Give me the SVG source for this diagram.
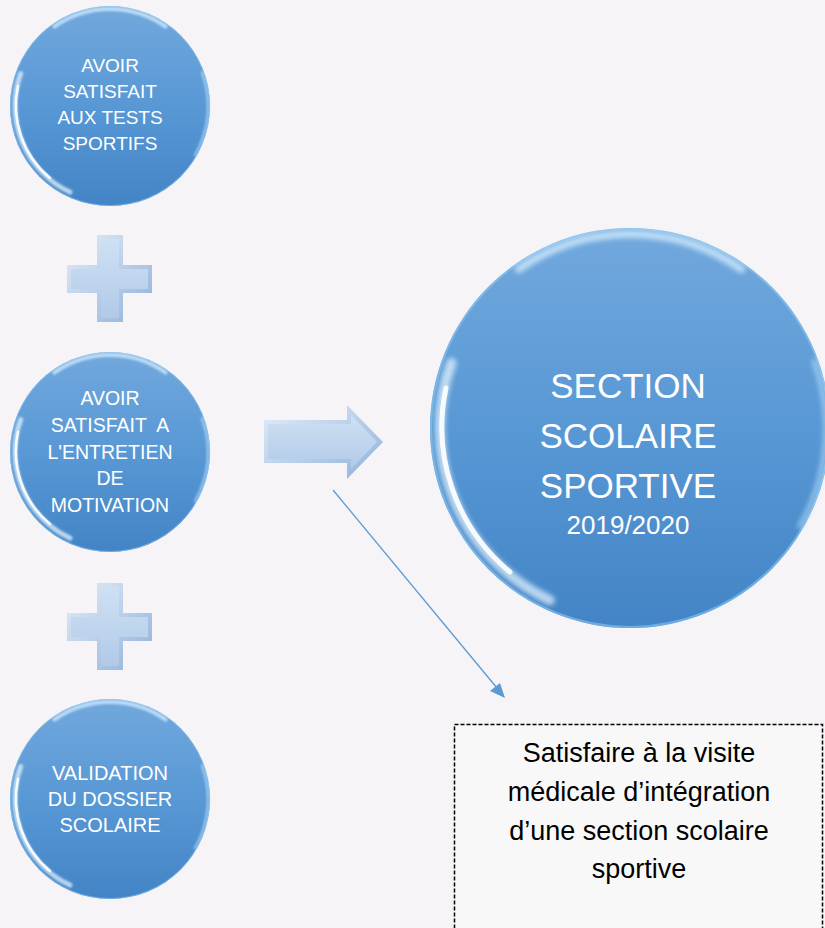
<svg xmlns="http://www.w3.org/2000/svg" xmlns:xlink="http://www.w3.org/1999/xlink" width="825" height="928" viewBox="0 0 825 928">
<style>
.ctext{font-family:"Liberation Sans",Arial,sans-serif;fill:#ffffff;text-anchor:middle}
.btext{font-family:"Liberation Sans",Arial,sans-serif;fill:#000000;text-anchor:middle;font-size:27px}
.hl{fill:none;stroke-linecap:round}
</style>
<defs>
<linearGradient id="gBubble" x1="0" y1="0" x2="0" y2="1">
<stop offset="0" stop-color="#72a8dd"/>
<stop offset="0.5" stop-color="#5898d5"/>
<stop offset="1" stop-color="#4384c6"/>
</linearGradient>
<linearGradient id="gBevelOuter" x1="0" y1="0" x2="1" y2="1">
<stop offset="0" stop-color="#e4eef9"/>
<stop offset="1" stop-color="#8fb0da"/>
</linearGradient>
<linearGradient id="gBevelFace" x1="0" y1="0" x2="0" y2="1">
<stop offset="0" stop-color="#cfe0f3"/>
<stop offset="1" stop-color="#b1cae9"/>
</linearGradient>
<filter id="fBlur" x="-20%" y="-20%" width="140%" height="140%">
<feGaussianBlur stdDeviation="1.2"/>
</filter>
<g id="bubble">
<circle r="100" fill="url(#gBubble)"/>
<circle r="99.5" fill="none" stroke="#8cc6f0" stroke-width="1" opacity="0.6"/>
<path class="hl" d="M -89.3 -32.5 A 95 95 0 0 0 -40.1 86.1" stroke="#eaf8ff" stroke-width="5" opacity="0.7" filter="url(#fBlur)"/>
<path class="hl" d="M -92 -20 A 94 94 0 0 0 -60 72" stroke="#ffffff" stroke-width="2.5" opacity="0.9"/>
<path class="hl" d="M -55.6 -79.5 A 97 97 0 0 1 55.6 -79.5" stroke="#d6efff" stroke-width="4" opacity="0.75" filter="url(#fBlur)"/>
<path class="hl" d="M 92 -33.5 A 98 98 0 0 1 85 49" stroke="#c4e8ff" stroke-width="2.5" opacity="0.6" filter="url(#fBlur)"/>
</g>
</defs>

<rect x="0" y="0" width="825" height="928" fill="#f6f4f6"/>

<g id="node-tests">
<use xlink:href="#bubble" transform="translate(110,106)"/>
<text class="ctext" font-size="19" x="110" y="72">AVOIR</text>
<text class="ctext" font-size="19" x="110" y="98">SATISFAIT</text>
<text class="ctext" font-size="19" x="110" y="124">AUX TESTS</text>
<text class="ctext" font-size="19" x="110" y="150">SPORTIFS</text>
</g>

<g id="plus-1">
<polygon points="97,235 123,235 123,265 152,265 152,293 123,293 123,322 97,322 97,293 67,293 67,265 97,265" fill="url(#gBevelOuter)"/>
<polygon points="101,239 119,239 119,269 148,269 148,289 119,289 119,318 101,318 101,289 71,289 71,269 101,269" fill="url(#gBevelFace)"/>
</g>

<g id="node-entretien">
<use xlink:href="#bubble" transform="translate(110,452)"/>
<text class="ctext" font-size="19.5" x="110" y="405">AVOIR</text>
<text class="ctext" font-size="19.5" x="110" y="432" xml:space="preserve">SATISFAIT  A</text>
<text class="ctext" font-size="19.5" x="110" y="459">L'ENTRETIEN</text>
<text class="ctext" font-size="19.5" x="110" y="485">DE</text>
<text class="ctext" font-size="19.5" x="110" y="512">MOTIVATION</text>
</g>

<g id="plus-2">
<polygon points="97,583 123,583 123,613 152,613 152,641 123,641 123,670 97,670 97,641 67,641 67,613 97,613" fill="url(#gBevelOuter)"/>
<polygon points="101,587 119,587 119,617 148,617 148,637 119,637 119,666 101,666 101,637 71,637 71,617 101,617" fill="url(#gBevelFace)"/>
</g>

<g id="node-dossier">
<use xlink:href="#bubble" transform="translate(110,799)"/>
<text class="ctext" font-size="20" x="110" y="780">VALIDATION</text>
<text class="ctext" font-size="20" x="110" y="806">DU DOSSIER</text>
<text class="ctext" font-size="20" x="110" y="832">SCOLAIRE</text>
</g>

<g id="block-arrow">
<polygon points="264,420 347,420 347,405 383,442 347,479 347,463 264,463" fill="url(#gBevelOuter)"/>
<polygon points="268,424 351,424 351,415 377,442 351,469 351,459 268,459" fill="url(#gBevelFace)"/>
</g>

<g id="node-section">
<use xlink:href="#bubble" transform="translate(630,428) scale(2)"/>
<text class="ctext" font-size="35" x="628" y="398">SECTION</text>
<text class="ctext" font-size="35" x="628" y="448">SCOLAIRE</text>
<text class="ctext" font-size="35" x="628" y="498">SPORTIVE</text>
<text class="ctext" font-size="26" x="628" y="534">2019/2020</text>
</g>

<g id="connectors">
<line x1="333" y1="490" x2="497" y2="688" stroke="#5b9bd5" stroke-width="1.3"/>
<polygon points="505,698 490,691 500,683" fill="#5b9bd5"/>
</g>

<g id="node-visite">
<rect x="454.5" y="724.5" width="368" height="220" fill="#fbfafb" fill-opacity="0.6" stroke="#000000" stroke-width="1.5" stroke-dasharray="4,2"/>
<text class="btext" x="639" y="762">Satisfaire à la visite</text>
<text class="btext" x="639" y="801">médicale d’intégration</text>
<text class="btext" x="639" y="840">d’une section scolaire</text>
<text class="btext" x="639" y="878">sportive</text>
</g>
</svg>
